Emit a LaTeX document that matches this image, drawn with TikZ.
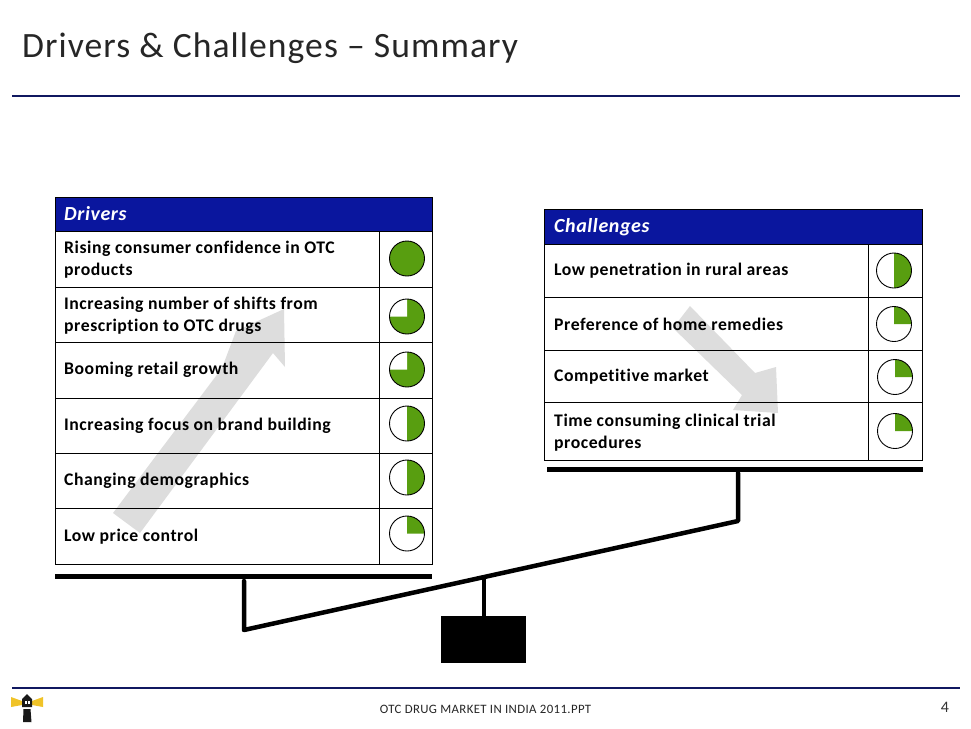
\documentclass[tikz,border=0pt]{standalone}
\usepackage{fontspec}
\setmainfont{Carlito}
\newfontfamily\spaced[LetterSpace=3,Ligatures=NoCommon,Contextuals=NoAlternate]{Carlito}
\newfontfamily\titlefont[LetterSpace=3,Ligatures=NoCommon]{Carlito}
\definecolor{navy}{RGB}{16,24,96}
\definecolor{headblue}{RGB}{10,22,158}
\definecolor{leaf}{RGB}{88,158,16}
\definecolor{greyarrow}{RGB}{221,221,221}
\definecolor{lamp}{RGB}{240,195,40}
\tikzset{
  x=1pt,y=-1pt,
  rule/.style={draw=navy,line width=1.6pt},
  cell/.style={draw=black,line width=0.8pt},
  headbar/.style={draw=black,line width=0.8pt,fill=headblue},
  headtext/.style={anchor=west,inner sep=0pt,text=white,font=\fontsize{20}{22}\selectfont\spaced\bfseries\itshape},
  rowtext/.style={anchor=west,inner sep=0pt,align=left,font=\fontsize{17.7}{22}\selectfont\spaced\bfseries},
  beam/.style={line width=4.5pt,draw=black,line cap=round,line join=round},
  bar/.style={line width=5pt,draw=black},
  harvey/.style={draw=black,line width=0.9pt,fill=white},
}
\newcommand{\hball}[4]{%
  \fill[white] (#1,#2) circle[radius=#3];
  #4
  \draw[harvey,fill=none] (#1,#2) circle[radius=#3];
}
\newcommand{\hfull}[3]{\hball{#1}{#2}{#3}{\fill[leaf] (#1,#2) circle[radius=#3];}}
\newcommand{\hthree}[3]{\hball{#1}{#2}{#3}{\fill[leaf] (#1,#2) circle[radius=#3];\fill[white] (#1,#2) -- (#1-#3,#2) arc[start angle=180,end angle=270,radius=#3] -- cycle;}}
\newcommand{\hhalf}[3]{\hball{#1}{#2}{#3}{\fill[leaf] (#1,#2-#3) arc[start angle=-90,end angle=90,radius=#3] -- cycle;}}
\newcommand{\hone}[3]{\hball{#1}{#2}{#3}{\fill[leaf] (#1,#2) -- (#1,#2-#3) arc[start angle=-90,end angle=0,radius=#3] -- cycle;}}
\begin{document}
\begin{tikzpicture}
\useasboundingbox (0,0) rectangle (971,728);
\fill[white] (0,0) rectangle (971,728);
% title and rules
\node[anchor=west,inner sep=0pt,font=\fontsize{35.6}{38}\selectfont\titlefont,text=black!85] (title) at (22,48) {Drivers \& Challenges – Summary};
\draw[rule] (12,96) -- (960,96);
\draw[rule] (12,688) -- (960,688);
% grey arrows
\fill[greyarrow] (113,513) -- (222,368) -- (236,331) -- (284,309) -- (285,367) -- (273,353) -- (140,533) -- cycle;
\fill[greyarrow] (690,306) -- (755,373) -- (776,367) -- (778,413) -- (733,410) -- (742,395) -- (673,328) -- cycle;
% drivers table
\draw[headbar] (55,197) rectangle (432,231);
\node[headtext] (dh) at (64,214) {Drivers};
\draw[cell] (55,231) rectangle (432,564);
\draw[cell] (379,231) -- (379,564);
\foreach \yy in {287,342,398,453,508} \draw[cell] (55,\yy) -- (432,\yy);
\node[rowtext] (d1) at (64,260) {Rising consumer confidence in OTC\\products};
\node[rowtext] (d2) at (64,316) {Increasing number of shifts from\\prescription to OTC drugs};
\node[rowtext] (d3) at (64,370) {Booming retail growth};
\node[rowtext] (d4) at (64,426) {Increasing focus on brand building};
\node[rowtext] (d5) at (64,481) {Changing demographics};
\node[rowtext] (d6) at (64,537) {Low price control};
\hfull{407}{258.5}{17.5}
\hthree{407}{316.5}{17.5}
\hthree{407}{369.5}{17.5}
\hhalf{407}{423.5}{17.5}
\hhalf{407}{477.5}{17.5}
\hone{407}{533.5}{17.5}
% challenges table
\draw[headbar] (544,209) rectangle (922,244);
\node[headtext] (ch) at (554,227) {Challenges};
\draw[cell] (544,244) rectangle (922,460);
\draw[cell] (868,244) -- (868,460);
\foreach \yy in {297,350,402} \draw[cell] (544,\yy) -- (922,\yy);
\node[rowtext] (c1) at (554,271) {Low penetration in rural areas};
\node[rowtext] (c2) at (554,324) {Preference of home remedies};
\node[rowtext] (c3) at (554,377) {Competitive market};
\node[rowtext] (c4) at (554,433) {Time consuming clinical trial\\procedures};
\hhalf{894}{270.5}{17.5}
\hone{894}{324}{17.5}
\hone{895}{377}{17.5}
\hone{895}{431}{17.5}
% balance
\draw[bar] (55,576) -- (432,576);
\draw[bar] (547,469) -- (923,469);
\node[fill=black,inner sep=0pt,minimum width=85pt,minimum height=47pt] (base) at (483.5,639.5) {};
\coordinate (lt) at (244,581);
\coordinate (lb) at (244,630);
\coordinate (rb) at (738,521);
\coordinate (rt) at (738,473);
\coordinate (piv) at (484,576);
\draw[beam] (lt) -- (lb) -- (rb) -- (rt);
\draw[line width=3.5pt] (piv) -- (base.north -| piv);
% logo
\fill[lamp] (11,697) -- (22,701) -- (22,705) -- (11,707) -- cycle;
\fill[lamp] (43,697) -- (32,701) -- (32,705) -- (43,707) -- cycle;
\fill[black!90] (22,699) -- (27,694) -- (32,699) -- (32,707) -- (22,707) -- cycle;
\fill[white] (25,701) rectangle (26.5,704);
\fill[white] (28,701) rectangle (29.5,704);
\fill[black!90] (23.5,709) -- (30.5,709) -- (31.5,722) -- (23,722) -- cycle;
% footer
\node[inner sep=0pt,font=\fontsize{12.8}{14}\selectfont\spaced,text=black!85] (foot) at (485.5,709) {OTC DRUG MARKET IN INDIA 2011.PPT};
\node[inner sep=0pt,font=\fontsize{16}{18}\selectfont,text=black!80] (num) at (945,707) {4};
\end{tikzpicture}
\end{document}
